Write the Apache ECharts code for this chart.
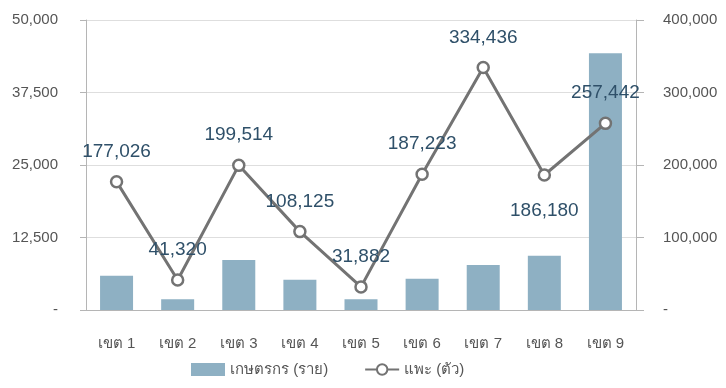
<!DOCTYPE html>
<html>
<head>
<meta charset="utf-8">
<script src="https://cdn.jsdelivr.net/npm/echarts@6/dist/echarts.min.js"></script>
<style>
html,body{margin:0;padding:0;background:#fff;}
#chart{width:726px;height:388px;}
</style>
</head>
<body>
<div id="chart"></div>
<script>
const categories = ['เขต 1','เขต 2','เขต 3','เขต 4','เขต 5','เขต 6','เขต 7','เขต 8','เขต 9'];
const farmers = [5900, 1850, 8600, 5200, 1850, 5400, 7750, 9350, 44250];
const goats = [177026, 41320, 199514, 108125, 31882, 187223, 334436, 186180, 257442];
const labelBelow = ['เขต 8'];
const seriesNames = ['เกษตรกร (ราย)', 'แพะ (ตัว)'];

const FONT = '"Liberation Sans", Arial, "DejaVu Sans", sans-serif';
const fmt = v => v === 0 ? '-' : v.toLocaleString('en-US');

const chart = echarts.init(document.getElementById('chart'));
chart.setOption({
  animation: false,
  textStyle: { fontFamily: FONT },
  grid: { left: 86, right: 90, top: 20, bottom: 78 },
  legend: {
    left: 186, top: 357,
    itemWidth: 34, itemHeight: 13, itemGap: 36,
    textStyle: { fontSize: 15, color: '#555', fontFamily: FONT },
    data: [
      { name: seriesNames[0], icon: 'rect' },
      { name: seriesNames[1] }
    ]
  },
  xAxis: {
    type: 'category',
    data: categories,
    axisLine: { lineStyle: { color: '#b5b5b5', width: 1 } },
    axisTick: { show: false },
    axisLabel: { color: '#555', fontSize: 15, margin: 26 }
  },
  yAxis: [
    {
      type: 'value', min: 0, max: 50000, interval: 12500,
      axisLine: { show: true, lineStyle: { color: '#b5b5b5' } },
      axisTick: { show: true, length: 6, lineStyle: { color: '#b5b5b5' } },
      splitLine: { lineStyle: { color: '#dedede' } },
      axisLabel: { color: '#555', fontSize: 15, margin: 28, formatter: fmt }
    },
    {
      type: 'value', min: 0, max: 400000, interval: 100000,
      axisLine: { show: true, lineStyle: { color: '#b5b5b5' } },
      axisTick: { show: true, length: 8, lineStyle: { color: '#b5b5b5' } },
      splitLine: { show: false },
      axisLabel: { color: '#555', fontSize: 15, margin: 27, formatter: fmt }
    }
  ],
  series: [
    {
      name: seriesNames[0],
      type: 'bar',
      yAxisIndex: 0,
      data: farmers,
      barWidth: 33,
      itemStyle: { color: '#8eb0c3' }
    },
    {
      name: seriesNames[1],
      type: 'line',
      yAxisIndex: 1,
      data: goats.map((v, i) => ({
        value: v,
        label: labelBelow.includes(categories[i]) ? { position: 'bottom', distance: 19 } : {}
      })),
      symbol: 'circle',
      symbolSize: 11,
      lineStyle: { color: '#737373', width: 3 },
      itemStyle: { color: '#ffffff', borderColor: '#737373', borderWidth: 2.5 },
      label: {
        show: true, position: 'top', distance: 14,
        color: '#2f5069', fontSize: 19,
        formatter: p => p.value.toLocaleString('en-US')
      },
      z: 3
    }
  ]
});
</script>
</body>
</html>
